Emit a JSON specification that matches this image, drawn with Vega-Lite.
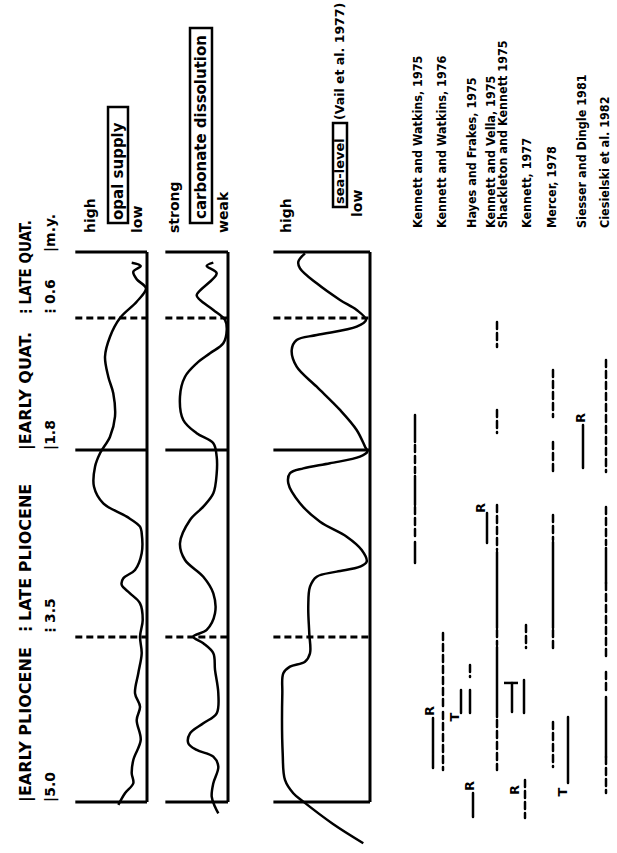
{
  "$schema": "https://vega.github.io/schema/vega-lite/v6.json",
  "padding": 0,
  "spacing": 0,
  "bounds": "flush",
  "background": "white",
  "config": {"view": {"stroke": null}},
  "datasets": {
    "bounds": [
      {"my": 0, "kind": "solid"},
      {"my": 0.6, "kind": "dashed"},
      {"my": 1.8, "kind": "solid"},
      {"my": 3.5, "kind": "dashed"},
      {"my": 5.0, "kind": "solid"}
    ],
    "frame": [{"v": 100, "my0": 0, "my1": 5}]
  },
  "hconcat": [
    {
      "width": 70, "height": 853,
      "data": {"values": [
        {"lane": "name", "my": 5.0, "label": "|EARLY PLIOCENE", "sz": "big"},
        {"lane": "name", "my": 3.5, "label": "⋮LATE PLIOCENE", "sz": "big"},
        {"lane": "name", "my": 1.8, "label": "|EARLY QUAT.", "sz": "big"},
        {"lane": "name", "my": 0.6, "label": "⋮LATE QUAT.", "sz": "narrow"},
        {"lane": "age", "my": 5.0, "label": "|5.0", "sz": "age"},
        {"lane": "age", "my": 3.5, "label": "⋮3.5", "sz": "age"},
        {"lane": "age", "my": 1.8, "label": "|1.8", "sz": "age"},
        {"lane": "age", "my": 0.6, "label": "⋮0.6", "sz": "age"},
        {"lane": "age", "my": 0.0, "label": "|m.y.", "sz": "age"}
      ]},
      "layer": [
        {
          "transform": [{"filter": "datum.sz != 'narrow'"}],
          "mark": {"type": "text", "angle": 270, "align": "left", "baseline": "middle", "font": "DejaVu Sans", "fontWeight": "bold", "color": "black"},
          "encoding": {
            "x": {"field": "lane", "type": "ordinal", "scale": {"type": "point", "domain": ["name", "age"], "range": [26, 51], "padding": 0}, "axis": null},
            "y": {"field": "my", "type": "quantitative", "scale": {"domain": [-2.291, 5.464], "reverse": true, "nice": false, "zero": false}, "axis": null},
            "size": {"field": "sz", "type": "nominal", "scale": {"domain": ["big", "age"], "range": [16, 14]}, "legend": null},
            "text": {"field": "label"}
          }
        },
        {
          "transform": [{"filter": "datum.sz == 'narrow'"}],
          "mark": {"type": "text", "angle": 270, "align": "left", "baseline": "middle", "font": "Liberation Sans Narrow, DejaVu Sans Condensed, sans-serif", "fontWeight": "bold", "fontSize": 15, "color": "black"},
          "encoding": {
            "x": {"field": "lane", "type": "ordinal", "scale": {"type": "point", "domain": ["name", "age"], "range": [26, 51], "padding": 0}, "axis": null},
            "y": {"field": "my", "type": "quantitative", "scale": {"domain": [-2.291, 5.464], "reverse": true, "nice": false, "zero": false}, "axis": null},
            "text": {"field": "label"}
          }
        }
      ]
    },
    {
      "width": 90, "height": 853,
      "layer": [
        {
          "data": {"name": "bounds"},
          "mark": {"type": "rule", "color": "black", "strokeWidth": 3},
          "encoding": {
            "y": {"field": "my", "type": "quantitative", "scale": {"domain": [-2.291, 5.464], "reverse": true, "nice": false, "zero": false}, "axis": null},
            "x": {"datum": -12, "type": "quantitative", "scale": {"domain": [-20.3, 120.3], "nice": false, "zero": false}, "axis": null},
            "x2": {"datum": 100},
            "strokeDash": {"field": "kind", "type": "nominal", "scale": {"domain": ["solid", "dashed"], "range": [[1, 0], [7, 4]]}, "legend": null}
          }
        },
        {
          "data": {"name": "frame"},
          "mark": {"type": "rule", "color": "black", "strokeWidth": 3},
          "encoding": {
            "x": {"field": "v", "type": "quantitative"},
            "y": {"field": "my0", "type": "quantitative"},
            "y2": {"field": "my1"}
          }
        },
        {
          "data": {"values": [
            {"my": 0.097, "v": 76.1}, {"my": 0.127, "v": 90.2}, {"my": 0.179, "v": 78.6}, {"my": 0.248, "v": 83.9},
            {"my": 0.330, "v": 98.4}, {"my": 0.452, "v": 83.9}, {"my": 0.600, "v": 57.8}, {"my": 0.770, "v": 42.2},
            {"my": 0.952, "v": 34.4}, {"my": 1.134, "v": 39.5}, {"my": 1.285, "v": 47.3}, {"my": 1.497, "v": 50.0},
            {"my": 1.679, "v": 42.2}, {"my": 1.830, "v": 26.6}, {"my": 1.952, "v": 18.8}, {"my": 2.134, "v": 17.2},
            {"my": 2.285, "v": 31.7}, {"my": 2.406, "v": 68.3}, {"my": 2.497, "v": 89.1}, {"my": 2.557, "v": 91.7},
            {"my": 2.739, "v": 91.7}, {"my": 2.891, "v": 81.3}, {"my": 2.966, "v": 63.0}, {"my": 3.027, "v": 60.5},
            {"my": 3.103, "v": 73.4}, {"my": 3.194, "v": 89.1}, {"my": 3.345, "v": 93.3}, {"my": 3.497, "v": 89.1},
            {"my": 3.648, "v": 91.7}, {"my": 3.830, "v": 86.4}, {"my": 4.012, "v": 81.3}, {"my": 4.134, "v": 89.1},
            {"my": 4.255, "v": 83.9}, {"my": 4.436, "v": 90.2}, {"my": 4.618, "v": 78.6}, {"my": 4.739, "v": 76.1},
            {"my": 4.830, "v": 78.6}, {"my": 4.921, "v": 65.6}, {"my": 5.027, "v": 55.2}
          ]},
          "mark": {"type": "line", "color": "black", "strokeWidth": 2.5, "interpolate": "catmull-rom"},
          "encoding": {
            "x": {"field": "v", "type": "quantitative"},
            "y": {"field": "my", "type": "quantitative"},
            "order": {"field": "my", "type": "quantitative"}
          }
        },
        {
          "data": {"values": [{"v0": 39.1, "v1": 70.3, "my0": -1.318, "my1": -0.264}]},
          "mark": {"type": "rect", "fill": null, "stroke": "black", "strokeWidth": 2.5},
          "encoding": {
            "x": {"field": "v0", "type": "quantitative"}, "x2": {"field": "v1"},
            "y": {"field": "my0", "type": "quantitative"}, "y2": {"field": "my1"}
          }
        },
        {
          "data": {"values": [
            {"v": 12.5, "my": -0.173, "label": "high", "fs": 14},
            {"v": 54.7, "my": -0.291, "label": "opal supply", "fs": 15},
            {"v": 85.9, "my": -0.173, "label": "low", "fs": 14}
          ]},
          "mark": {"type": "text", "angle": 270, "align": "left", "baseline": "middle", "font": "DejaVu Sans", "fontWeight": "bold", "color": "black"},
          "encoding": {
            "x": {"field": "v", "type": "quantitative"},
            "y": {"field": "my", "type": "quantitative"},
            "size": {"field": "fs", "type": "quantitative", "scale": null},
            "text": {"field": "label"}
          }
        }
      ]
    },
    {
      "width": 90, "height": 853,
      "layer": [
        {
          "data": {"name": "bounds"},
          "mark": {"type": "rule", "color": "black", "strokeWidth": 3},
          "encoding": {
            "y": {"field": "my", "type": "quantitative", "scale": {"domain": [-2.291, 5.464], "reverse": true, "nice": false, "zero": false}, "axis": null},
            "x": {"datum": -8, "type": "quantitative", "scale": {"domain": [-17.24, 137.93], "nice": false, "zero": false}, "axis": null},
            "x2": {"datum": 100},
            "strokeDash": {"field": "kind", "type": "nominal", "scale": {"domain": ["solid", "dashed"], "range": [[1, 0], [7, 4]]}, "legend": null}
          }
        },
        {
          "data": {"name": "frame"},
          "mark": {"type": "rule", "color": "black", "strokeWidth": 3},
          "encoding": {
            "x": {"field": "v", "type": "quantitative"},
            "y": {"field": "my0", "type": "quantitative"},
            "y2": {"field": "my1"}
          }
        },
        {
          "data": {"values": [
            {"my": 0.097, "v": 74.7}, {"my": 0.127, "v": 63.3}, {"my": 0.194, "v": 80.5}, {"my": 0.391, "v": 46.0},
            {"my": 0.436, "v": 51.7}, {"my": 0.527, "v": 74.7}, {"my": 0.618, "v": 94.8}, {"my": 0.709, "v": 97.8},
            {"my": 0.830, "v": 91.9}, {"my": 0.921, "v": 69.0}, {"my": 1.012, "v": 46.0}, {"my": 1.134, "v": 25.9},
            {"my": 1.315, "v": 17.2}, {"my": 1.527, "v": 22.9}, {"my": 1.648, "v": 46.0}, {"my": 1.739, "v": 74.7},
            {"my": 1.861, "v": 80.5}, {"my": 2.012, "v": 80.5}, {"my": 2.194, "v": 74.7}, {"my": 2.315, "v": 57.4},
            {"my": 2.436, "v": 34.5}, {"my": 2.648, "v": 17.2}, {"my": 2.800, "v": 25.9}, {"my": 2.952, "v": 57.4},
            {"my": 3.103, "v": 74.7}, {"my": 3.285, "v": 77.6}, {"my": 3.436, "v": 63.3}, {"my": 3.497, "v": 40.2},
            {"my": 3.557, "v": 57.4}, {"my": 3.648, "v": 74.7}, {"my": 3.800, "v": 77.6}, {"my": 4.012, "v": 83.3},
            {"my": 4.194, "v": 80.5}, {"my": 4.285, "v": 57.4}, {"my": 4.376, "v": 34.5}, {"my": 4.467, "v": 31.6},
            {"my": 4.527, "v": 46.0}, {"my": 4.588, "v": 74.7}, {"my": 4.679, "v": 83.3}, {"my": 4.830, "v": 74.7},
            {"my": 4.952, "v": 71.9}, {"my": 5.043, "v": 77.6}, {"my": 5.103, "v": 83.3}
          ]},
          "mark": {"type": "line", "color": "black", "strokeWidth": 2.5, "interpolate": "catmull-rom"},
          "encoding": {
            "x": {"field": "v", "type": "quantitative"},
            "y": {"field": "my", "type": "quantitative"},
            "order": {"field": "my", "type": "quantitative"}
          }
        },
        {
          "data": {"values": [{"v0": 34.5, "v1": 72.4, "my0": -2.036, "my1": -0.264}]},
          "mark": {"type": "rect", "fill": null, "stroke": "black", "strokeWidth": 2.5},
          "encoding": {
            "x": {"field": "v0", "type": "quantitative"}, "x2": {"field": "v1"},
            "y": {"field": "my0", "type": "quantitative"}, "y2": {"field": "my1"}
          }
        },
        {
          "data": {"values": [
            {"v": 8.6, "my": -0.173, "label": "strong", "fs": 14},
            {"v": 53.4, "my": -0.300, "label": "carbonate dissolution", "fs": 15},
            {"v": 93.1, "my": -0.173, "label": "weak", "fs": 14}
          ]},
          "mark": {"type": "text", "angle": 270, "align": "left", "baseline": "middle", "font": "DejaVu Sans", "fontWeight": "bold", "color": "black"},
          "encoding": {
            "x": {"field": "v", "type": "quantitative"},
            "y": {"field": "my", "type": "quantitative"},
            "size": {"field": "fs", "type": "quantitative", "scale": null},
            "text": {"field": "label"}
          }
        }
      ]
    },
    {
      "width": 130, "height": 853,
      "layer": [
        {
          "data": {"name": "bounds"},
          "mark": {"type": "rule", "color": "black", "strokeWidth": 3},
          "encoding": {
            "y": {"field": "my", "type": "quantitative", "scale": {"domain": [-2.291, 5.464], "reverse": true, "nice": false, "zero": false}, "axis": null},
            "x": {"datum": -5, "type": "quantitative", "scale": {"domain": [-30.43, 110.87], "nice": false, "zero": false}, "axis": null},
            "x2": {"datum": 100},
            "strokeDash": {"field": "kind", "type": "nominal", "scale": {"domain": ["solid", "dashed"], "range": [[1, 0], [7, 4]]}, "legend": null}
          }
        },
        {
          "data": {"name": "frame"},
          "mark": {"type": "rule", "color": "black", "strokeWidth": 3},
          "encoding": {
            "x": {"field": "v", "type": "quantitative"},
            "y": {"field": "my0", "type": "quantitative"},
            "y2": {"field": "my1"}
          }
        },
        {
          "data": {"values": [
            {"my": 0.012, "v": 29.3}, {"my": 0.088, "v": 22.1}, {"my": 0.148, "v": 23.9}, {"my": 0.285, "v": 42.1},
            {"my": 0.436, "v": 67.4}, {"my": 0.527, "v": 85.5}, {"my": 0.618, "v": 95.7}, {"my": 0.679, "v": 85.5},
            {"my": 0.755, "v": 42.1}, {"my": 0.800, "v": 20.3}, {"my": 0.891, "v": 14.9}, {"my": 1.043, "v": 20.3},
            {"my": 1.225, "v": 42.1}, {"my": 1.436, "v": 67.4}, {"my": 1.618, "v": 85.5}, {"my": 1.770, "v": 94.6},
            {"my": 1.815, "v": 97.1}, {"my": 1.861, "v": 89.1}, {"my": 1.921, "v": 56.5}, {"my": 1.967, "v": 27.5},
            {"my": 2.012, "v": 13.0}, {"my": 2.103, "v": 11.2}, {"my": 2.285, "v": 23.9}, {"my": 2.452, "v": 45.7},
            {"my": 2.588, "v": 74.7}, {"my": 2.709, "v": 91.0}, {"my": 2.815, "v": 96.4}, {"my": 2.861, "v": 89.1},
            {"my": 2.906, "v": 63.8}, {"my": 2.952, "v": 42.1}, {"my": 3.043, "v": 34.8}, {"my": 3.225, "v": 32.9},
            {"my": 3.467, "v": 34.0}, {"my": 3.648, "v": 34.8}, {"my": 3.725, "v": 29.3}, {"my": 3.770, "v": 13.0},
            {"my": 3.830, "v": 5.8}, {"my": 4.012, "v": 4.7}, {"my": 4.558, "v": 5.1}, {"my": 4.800, "v": 7.6},
            {"my": 4.921, "v": 16.6}, {"my": 4.997, "v": 27.5}, {"my": 5.200, "v": 59.8}, {"my": 5.375, "v": 92.7}
          ]},
          "mark": {"type": "line", "color": "black", "strokeWidth": 2.5, "interpolate": "catmull-rom"},
          "encoding": {
            "x": {"field": "v", "type": "quantitative"},
            "y": {"field": "my", "type": "quantitative"},
            "order": {"field": "my", "type": "quantitative"}
          }
        },
        {
          "data": {"values": [{"v0": 59.8, "v1": 75.0, "my0": -1.173, "my1": -0.409}]},
          "mark": {"type": "rect", "fill": null, "stroke": "black", "strokeWidth": 2.5},
          "encoding": {
            "x": {"field": "v0", "type": "quantitative"}, "x2": {"field": "v1"},
            "y": {"field": "my0", "type": "quantitative"}, "y2": {"field": "my1"}
          }
        },
        {
          "data": {"values": [
            {"v": 9.8, "my": -0.173, "label": "high", "fs": 14},
            {"v": 67.4, "my": -0.436, "label": "sea-level", "fs": 13},
            {"v": 67.4, "my": -1.2, "label": "(Vail et al. 1977)", "fs": 12.5},
            {"v": 87.0, "my": -0.318, "label": "low", "fs": 14}
          ]},
          "mark": {"type": "text", "angle": 270, "align": "left", "baseline": "middle", "font": "DejaVu Sans", "fontWeight": "bold", "color": "black"},
          "encoding": {
            "x": {"field": "v", "type": "quantitative"},
            "y": {"field": "my", "type": "quantitative"},
            "size": {"field": "fs", "type": "quantitative", "scale": null},
            "text": {"field": "label"}
          }
        }
      ]
    },
    {
      "width": 237, "height": 853,
      "layer": [
        {
          "data": {"values": [
            {"lane": 3.5, "my0": 1.482, "my1": 1.727, "style": "dotted"},
            {"lane": 3.5, "my0": 1.755, "my1": 2.009, "style": "wavy"},
            {"lane": 3.5, "my0": 2.036, "my1": 2.3, "style": "dotted"},
            {"lane": 3.5, "my0": 2.318, "my1": 2.618, "style": "wavy"},
            {"lane": 3.5, "my0": 2.636, "my1": 2.827, "style": "dotted"},
            {"lane": 5.3, "my0": 4.236, "my1": 4.691, "style": "solid"},
            {"lane": 6.3, "my0": 3.464, "my1": 4.164, "style": "dashed"},
            {"lane": 6.3, "my0": 4.182, "my1": 4.709, "style": "wavy"},
            {"lane": 8.1, "my0": 3.982, "my1": 4.191, "style": "solid"},
            {"lane": 9.0, "my0": 3.755, "my1": 3.864, "style": "wavy"},
            {"lane": 9.0, "my0": 3.982, "my1": 4.191, "style": "dotted"},
            {"lane": 9.3, "my0": 4.918, "my1": 5.136, "style": "solid"},
            {"lane": 10.7, "my0": 2.373, "my1": 2.645, "style": "solid"},
            {"lane": 11.7, "my0": 0.636, "my1": 0.864, "style": "wavy"},
            {"lane": 11.7, "my0": 1.436, "my1": 1.645, "style": "wavy"},
            {"lane": 11.7, "my0": 2.3, "my1": 2.709, "style": "wavy"},
            {"lane": 11.7, "my0": 2.727, "my1": 3.418, "style": "dotted"},
            {"lane": 11.7, "my0": 3.436, "my1": 3.573, "style": "wavy"},
            {"lane": 11.7, "my0": 3.591, "my1": 4.227, "style": "dotted"},
            {"lane": 11.7, "my0": 4.255, "my1": 4.709, "style": "wavy"},
            {"lane": 13.2, "my0": 3.918, "my1": 4.182, "style": "solid"},
            {"lane": 14.4, "my0": 3.891, "my1": 4.191, "style": "dotted"},
            {"lane": 14.6, "my0": 3.391, "my1": 3.6, "style": "wavy"},
            {"lane": 14.5, "my0": 4.8, "my1": 5.145, "style": "wavy"},
            {"lane": 17.3, "my0": 1.073, "my1": 1.5, "style": "wavy"},
            {"lane": 17.3, "my0": 1.727, "my1": 2.009, "style": "wavy"},
            {"lane": 17.3, "my0": 2.391, "my1": 2.618, "style": "wavy"},
            {"lane": 17.3, "my0": 2.636, "my1": 3.418, "style": "dotted"},
            {"lane": 17.3, "my0": 3.436, "my1": 3.6, "style": "wavy"},
            {"lane": 17.3, "my0": 4.273, "my1": 4.682, "style": "wavy"},
            {"lane": 18.8, "my0": 4.227, "my1": 4.827, "style": "solid"},
            {"lane": 20.3, "my0": 1.573, "my1": 1.964, "style": "solid"},
            {"lane": 22.6, "my0": 0.982, "my1": 2.0, "style": "wavy"},
            {"lane": 22.6, "my0": 2.318, "my1": 2.664, "style": "wavy"},
            {"lane": 22.6, "my0": 2.691, "my1": 3.009, "style": "dotted"},
            {"lane": 22.6, "my0": 3.009, "my1": 3.682, "style": "wavy"},
            {"lane": 22.6, "my0": 3.818, "my1": 4.009, "style": "wavy"},
            {"lane": 22.6, "my0": 4.045, "my1": 4.591, "style": "dotted"},
            {"lane": 22.6, "my0": 4.591, "my1": 4.918, "style": "wavy"}
          ]},
          "mark": {"type": "rule", "color": "black", "strokeCap": "round"},
          "encoding": {
            "x": {"field": "lane", "type": "quantitative", "scale": {"domain": [0, 23.7], "nice": false, "zero": false}, "axis": null},
            "y": {"field": "my0", "type": "quantitative", "scale": {"domain": [-2.291, 5.464], "reverse": true, "nice": false, "zero": false}, "axis": null},
            "y2": {"field": "my1"},
            "strokeDash": {"field": "style", "type": "nominal", "scale": {"domain": ["solid", "dashed", "dotted", "wavy"], "range": [[1, 0], [4, 6], [0.1, 6], [5, 1]]}, "legend": null},
            "strokeWidth": {"field": "style", "type": "nominal", "scale": {"domain": ["solid", "dashed", "dotted", "wavy"], "range": [2.5, 2.5, 3, 3.5]}, "legend": null}
          }
        },
        {
          "data": {"values": [{"lane0": 12.4, "lane1": 13.8, "my": 3.918}]},
          "mark": {"type": "rule", "color": "black", "strokeWidth": 2.5},
          "encoding": {
            "x": {"field": "lane0", "type": "quantitative"}, "x2": {"field": "lane1"},
            "y": {"field": "my", "type": "quantitative"}
          }
        },
        {
          "data": {"values": [
            {"lane": 5.0, "my": 4.173, "sym": "R"},
            {"lane": 7.5, "my": 4.227, "sym": "T"},
            {"lane": 9.0, "my": 4.855, "sym": "R"},
            {"lane": 10.1, "my": 2.327, "sym": "R"},
            {"lane": 13.5, "my": 4.891, "sym": "R"},
            {"lane": 18.3, "my": 4.909, "sym": "T"},
            {"lane": 20.1, "my": 1.509, "sym": "R"}
          ]},
          "mark": {"type": "text", "angle": 270, "align": "center", "baseline": "middle", "font": "DejaVu Sans", "fontWeight": "bold", "fontSize": 13, "color": "black"},
          "encoding": {
            "x": {"field": "lane", "type": "quantitative"},
            "y": {"field": "my", "type": "quantitative"},
            "text": {"field": "sym"}
          }
        },
        {
          "data": {"values": [
            {"lane": 3.8, "my": -0.218, "ref": "Kennett and Watkins, 1975"},
            {"lane": 6.2, "my": -0.218, "ref": "Kennett and Watkins, 1976"},
            {"lane": 9.2, "my": -0.218, "ref": "Hayes and Frakes, 1975"},
            {"lane": 11.1, "my": -0.218, "ref": "Kennett and Vella, 1975"},
            {"lane": 12.3, "my": -0.218, "ref": "Shackleton and Kennett 1975"},
            {"lane": 14.7, "my": -0.218, "ref": "Kennett, 1977"},
            {"lane": 17.2, "my": -0.218, "ref": "Mercer, 1978"},
            {"lane": 20.2, "my": -0.218, "ref": "Siesser and Dingle 1981"},
            {"lane": 22.5, "my": -0.218, "ref": "Ciesielski et al. 1982"}
          ]},
          "mark": {"type": "text", "angle": 270, "align": "left", "baseline": "middle", "font": "DejaVu Sans Condensed", "fontWeight": "bold", "fontSize": 12.5, "color": "black"},
          "encoding": {
            "x": {"field": "lane", "type": "quantitative"},
            "y": {"field": "my", "type": "quantitative"},
            "text": {"field": "ref"}
          }
        }
      ]
    }
  ]
}
